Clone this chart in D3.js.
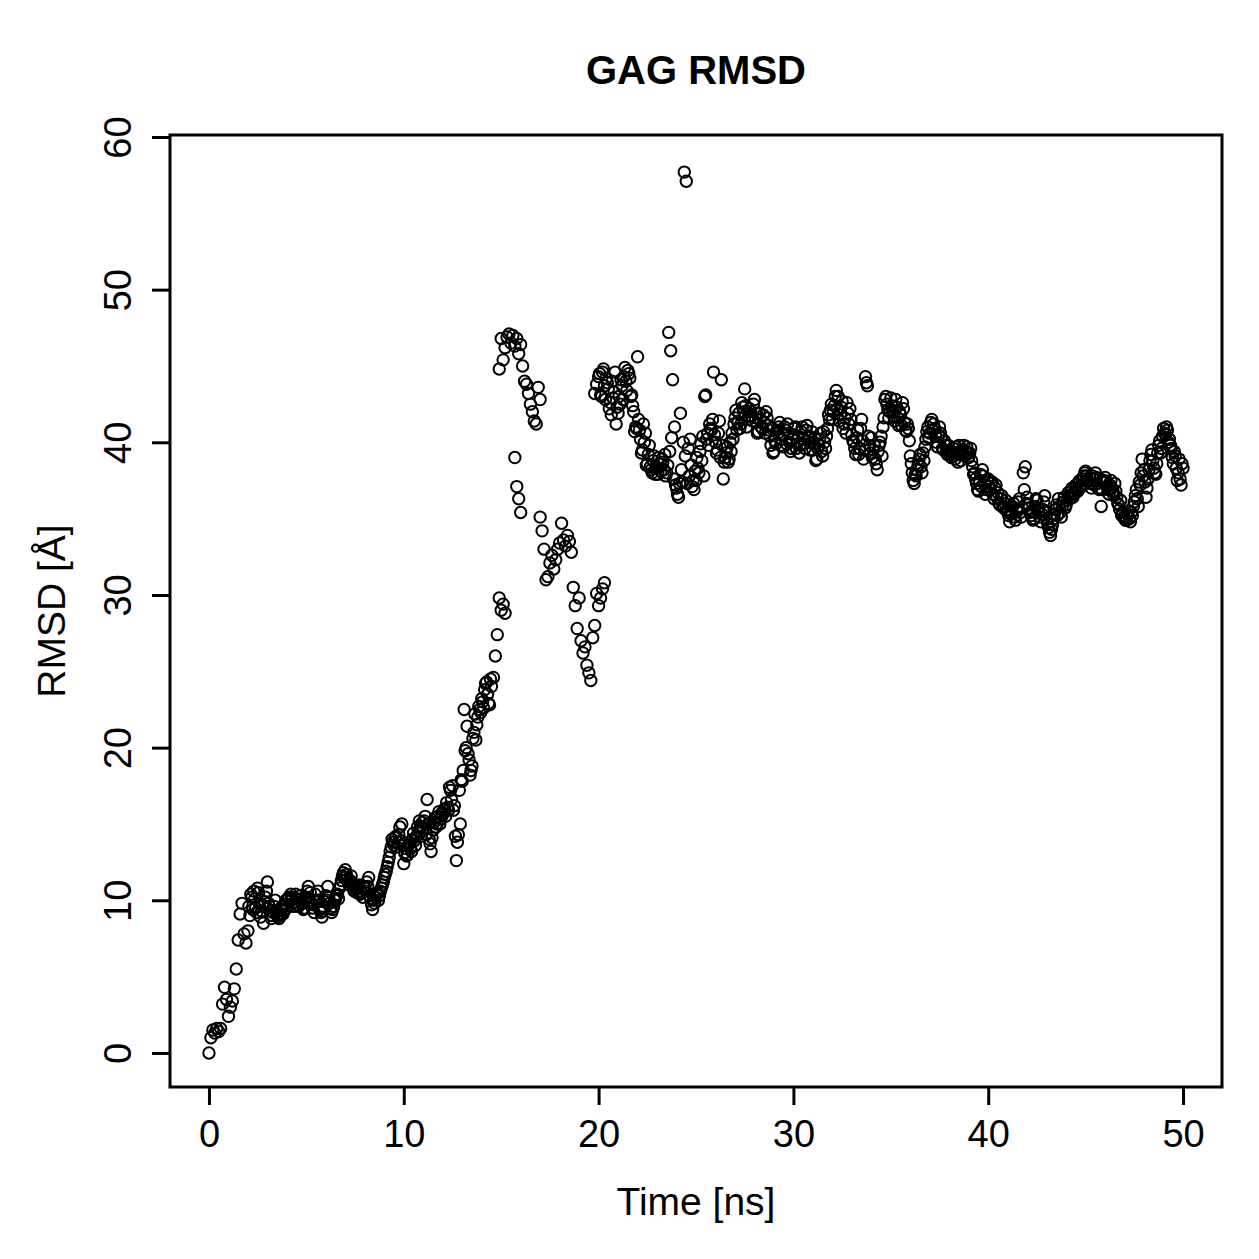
<!DOCTYPE html>
<html>
<head>
<meta charset="utf-8">
<script src="https://cdn.jsdelivr.net/npm/d3@7"></script>
<style>
  body { margin: 0; background: #fff; }
  text { font-family: "Liberation Sans", Arial, Helvetica, sans-serif; }
</style>
</head>
<body>
<svg id="chart"></svg>
<script>
// RMSD, one value every 0.1 ns inside each run of points
var step = 0.1;

var rmsdEarly = [ // 0.0 - 14.6 ns
  0.0, 1.0, 1.5, 1.3, 1.6, 1.4, 1.6, 3.2, 4.3, 3.5,
  2.4, 3.0, 3.4, 4.2, 5.5, 7.4, 9.1, 9.8, 7.8, 7.2,
  8.0, 9.0, 10.2, 10.6, 9.5, 10.8, 9.8, 9.3, 8.5, 10.2,
  11.2, 9.6, 8.8, 9.2, 10.0, 9.0, 8.8, 9.4, 9.1, 9.7,
  9.5, 10.2, 10.4, 9.8, 9.9, 10.1, 9.6, 10.3, 9.8, 9.5,
  10.2, 10.9, 10.5, 9.5, 9.2, 10.0, 10.6, 9.4, 8.9, 9.5,
  10.3, 10.9, 9.8, 9.2, 9.6, 10.1, 10.4, 10.8, 11.3, 11.8,
  12.0, 11.4, 11.0, 11.6, 10.9, 10.7, 10.5, 11.0, 10.6, 10.2,
  10.8, 11.2, 11.5, 10.1, 9.4, 9.8, 10.4, 10.0, 10.6, 11.0,
  11.5, 11.9, 12.5, 13.2, 14.0, 13.6, 14.2, 13.8, 14.8, 15.0,
  12.4, 13.4, 13.0, 13.8, 13.2, 14.4, 13.6, 14.8, 15.2, 14.2,
  14.7, 15.5, 16.6, 14.0, 13.2, 14.6, 15.4, 15.0, 15.8, 15.3,
  15.6, 16.0, 16.4, 15.9, 17.2, 17.5, 16.2, 12.6, 14.3, 15.0,
  17.8, 22.5, 20.0, 19.6, 18.2, 18.8, 21.0, 20.5, 22.0, 22.5,
  23.2, 22.6, 24.2, 23.5, 22.8, 24.0, 24.6
];
var rmsdEarlyHalf = [ // 2.05 - 14.45 ns
  9.6, 10.4, 9.4, 10.1, 9.2, 10.5, 8.9, 9.7, 9.9, 10.6,
  9.8, 9.3, 9.0, 9.6, 9.2, 8.9, 9.1, 9.6, 9.3, 10.0,
  10.1, 9.9, 10.2, 9.6, 10.4, 9.7, 10.0, 9.9, 9.4, 10.1,
  10.6, 10.0, 9.8, 9.7, 10.4, 9.9, 10.0, 9.2, 9.3, 9.9,
  10.0, 10.2, 9.5, 9.4, 10.0, 10.3, 10.1, 11.0, 11.6, 11.5,
  11.7, 11.2, 11.3, 11.1, 10.6, 10.8, 10.9, 10.4, 10.5, 10.9,
  10.6, 10.9, 10.3, 9.7, 10.0, 10.2, 10.5, 10.3, 10.8, 11.2,
  11.7, 12.2, 12.8, 13.5, 13.8, 14.1, 13.5, 14.3, 13.9, 13.6,
  13.1, 12.9, 13.6, 13.4, 14.0, 13.9, 14.2, 14.5, 14.8, 15.1,
  15.2, 14.3, 15.0, 13.7, 14.1, 15.1, 14.8, 15.5, 15.0, 15.7,
  15.9, 15.5, 16.1, 17.4, 16.6, 15.9, 14.2, 13.8, 17.2, 17.9,
  18.5, 19.8, 21.4, 19.2, 18.5, 20.6, 22.2, 21.5, 22.7, 22.3,
  23.0, 23.8, 24.3, 22.9, 24.5
];
var rmsdLowRise = [26.0, 27.4, 29.8, 29.0, 29.4, 28.8];
var rmsdPeak = [
  44.8, 46.8, 45.4, 46.2, 46.9, 47.1, 46.5, 47.0, 46.3, 46.8,
  45.8, 46.4, 45.0, 44.0, 43.8, 43.2, 42.5, 42.0, 41.4, 41.2,
  43.6, 42.8
];
var rmsdFall = [39.0, 37.1, 36.3, 35.4];
var rmsdDip = [
  35.1, 34.2, 33.0, 31.0, 31.2, 32.1, 32.6, 31.7, 32.3, 33.0,
  33.4, 34.7, 33.6, 33.2, 33.9, 33.5, 32.8
];
var rmsdTrough = [
  30.5, 29.3, 27.8, 29.8, 27.0, 26.2, 26.6, 25.4, 24.9, 24.4,
  27.2, 28.0, 30.1, 29.3, 29.8, 30.4, 30.8
];
var rmsdPlateau = [ // 19.8 - 50.0 ns
  43.2, 43.8, 44.3, 43.1, 44.6, 43.7, 44.2, 43.5, 42.6, 44.0, 43.3, 41.2,
  41.9, 42.5, 43.7, 44.3, 44.0, 44.7, 44.2, 43.1, 42.0, 41.0,
  45.6, 40.8, 39.3, 41.2, 40.6, 38.6, 39.8, 38.2, 38.8, 37.9,
  38.3, 39.0, 38.1, 38.7, 39.2, 38.0, 47.2, 46.0, 44.1, 41.0,
  37.0, 36.4, 41.9, 37.4, 57.7, 57.1, 39.6, 40.2, 37.1, 36.9,
  37.5, 38.3, 39.4, 38.8, 37.8, 43.1, 40.6, 41.2, 40.8, 44.6,
  40.0, 39.5, 41.4, 44.1, 37.6, 39.0, 39.7, 38.9, 39.4, 40.2,
  41.6, 40.8, 41.9, 41.2, 42.3, 43.5, 41.0, 41.7, 42.0, 41.4,
  42.8, 41.9, 40.7, 41.5, 40.9, 41.3, 42.0, 41.1, 40.4, 40.9,
  39.4, 39.9, 40.6, 41.3, 40.2, 39.7, 40.8, 41.2, 40.0, 39.6,
  40.5, 41.0, 39.9, 39.3, 40.7, 40.2, 39.6, 41.1, 40.4, 40.0,
  39.5, 40.3, 38.9, 39.8, 40.6, 39.1, 40.0, 40.4, 41.8, 42.1,
  41.5, 42.4, 43.4, 43.0, 41.8, 42.7, 41.2, 40.6, 41.9, 42.2,
  40.5, 40.0, 39.2, 40.8, 39.6, 41.5, 38.9, 44.3, 43.7, 39.8,
  40.3, 39.5, 38.9, 38.2, 39.8, 40.4, 41.0, 42.8, 42.5, 41.6,
  42.9, 42.0, 41.4, 42.3, 41.1, 41.8, 42.6, 41.3, 40.7, 40.9,
  39.1, 38.0, 37.3, 37.8, 38.5, 39.2, 38.0, 38.8, 40.2, 41.0,
  40.6, 41.5, 41.2, 40.4, 39.7, 41.0, 40.3, 39.5, 39.8, 39.2,
  39.4, 39.0, 39.6, 38.9, 39.3, 39.8, 38.8, 39.5, 39.1, 39.7,
  39.0, 39.6, 38.4, 38.0, 37.3, 36.8, 37.9, 38.2, 37.4, 36.9,
  37.6, 36.9, 37.4, 36.3, 37.2, 36.7, 35.9, 36.5, 35.7, 36.2,
  35.6, 34.8, 35.4, 36.0, 34.9, 35.5, 36.3, 35.1, 38.0, 38.4,
  36.4, 35.7, 35.2, 34.9, 35.8, 36.2, 35.4, 34.8, 35.6, 36.5,
  35.0, 34.4, 33.9, 34.6, 35.3, 35.9, 36.3, 35.4, 35.8, 36.4,
  35.9, 36.7, 36.3, 37.0, 36.6, 37.2, 36.8, 37.5, 37.1, 37.8,
  38.1, 37.4, 37.7, 37.0, 37.6, 38.0, 37.3, 36.9, 35.8, 37.4,
  37.7, 37.1, 36.6, 37.5, 36.8, 37.3, 36.4, 35.9, 36.2, 35.4,
  35.0, 34.9, 35.5, 34.8, 35.2, 36.1, 36.9, 35.8, 37.2, 38.9,
  38.2, 36.4, 37.6, 38.8, 39.5, 38.3, 37.9, 39.3, 40.1, 39.6,
  40.9, 40.5, 40.8, 40.2, 39.6, 38.6, 39.1, 37.5, 38.9, 37.2,
  38.3
];
var rmsdPlateauHalf = [ // 20.05 - 49.95 ns
  44.5, 43.0, 44.8, 42.8, 43.9, 42.2, 41.8, 42.9, 44.6, 42.3,
  43.0, 44.1, 42.8, 44.9, 43.4, 44.5, 43.0, 42.4, 40.7, 40.9,
  41.5, 40.2, 39.5, 40.0, 38.5, 39.2, 38.4, 38.0, 39.1, 38.4,
  37.9, 38.6, 38.9, 38.2, 37.8, 38.5, 39.4, 40.3, 37.6, 37.2,
  36.6, 37.3, 38.2, 40.0, 39.1, 37.3, 37.8, 38.5, 37.5, 38.1,
  39.0, 38.0, 39.9, 40.4, 43.0, 40.2, 39.8, 40.9, 41.5, 40.5,
  39.3, 40.6, 39.0, 39.8, 38.7, 39.3, 38.7, 40.0, 40.6, 41.2,
  42.1, 41.3, 40.9, 42.6, 42.0, 42.4, 41.5, 42.2, 41.7, 42.5,
  41.6, 40.6, 41.9, 41.0, 41.8, 40.6, 41.6, 40.8, 39.8, 39.3,
  40.1, 40.8, 41.0, 39.8, 40.5, 41.0, 39.9, 40.6, 39.4, 40.2,
  40.9, 39.6, 40.4, 39.8, 41.0, 39.9, 40.8, 40.3, 39.5, 40.7,
  39.9, 38.8, 39.6, 40.2, 39.4, 40.7, 39.6, 40.9, 41.5, 42.5,
  42.0, 43.0, 42.2, 41.4, 42.3, 40.9, 41.6, 42.6, 41.2, 41.5,
  40.1, 39.6, 40.3, 39.2, 40.9, 40.1, 39.5, 43.9, 40.4, 39.3,
  39.0, 39.8, 38.6, 39.4, 40.0, 39.1, 41.6, 43.0, 42.1, 42.0,
  42.4, 41.7, 42.8, 41.6, 42.0, 41.1, 42.2, 40.8, 41.2, 40.1,
  38.6, 37.5, 37.9, 38.2, 38.9, 38.4, 39.3, 39.7, 40.7, 40.3,
  41.3, 40.8, 40.9, 40.0, 40.5, 40.6, 39.6, 40.1, 39.4, 39.8,
  39.2, 39.4, 39.1, 39.7, 38.7, 39.4, 39.2, 39.8, 39.4, 39.3,
  39.3, 38.8, 37.9, 37.6, 36.9, 37.5, 37.1, 37.8, 36.6, 37.5,
  37.1, 37.3, 36.6, 37.0, 36.4, 36.0, 36.3, 35.8, 36.0, 35.5,
  35.2, 35.3, 35.8, 35.1, 35.6, 36.1, 35.4, 35.7, 36.9, 36.0,
  35.9, 35.4, 35.5, 35.0, 36.3, 35.7, 35.1, 35.3, 36.1, 35.5,
  34.7, 34.1, 34.3, 35.0, 35.6, 35.2, 35.8, 35.1, 36.1, 35.7,
  36.2, 36.5, 36.8, 36.4, 37.0, 36.9, 37.4, 37.2, 37.6, 38.0,
  37.8, 37.5, 37.3, 37.8, 37.2, 37.7, 37.0, 37.6, 36.9, 37.5,
  37.4, 36.9, 37.2, 37.0, 36.5, 36.8, 36.0, 35.6, 35.2, 35.1,
  34.9, 35.3, 35.0, 35.4, 35.8, 36.5, 36.3, 37.4, 38.0, 37.8,
  37.4, 37.0, 38.2, 39.2, 38.8, 38.0, 38.6, 39.8, 39.3, 40.4,
  40.6, 41.0, 40.0, 39.8, 39.0, 39.4, 38.3, 38.0, 37.6, 38.6
];

var segments = [rmsdEarly, rmsdEarlyHalf, rmsdLowRise, rmsdPeak, rmsdFall,
                rmsdDip, rmsdTrough, rmsdPlateau, rmsdPlateauHalf];
var segmentStarts = [0.0, 2.05, 14.7, 14.9, 15.7, 17.0, 18.7, 19.8, 20.05];

var xTicks = [0, 10, 20, 30, 40, 50];
var yTicks = [0, 10, 20, 30, 40, 50, 60];

var points = [];
segments.forEach(function(vals, s) {
  vals.forEach(function(v, i) {
    points.push({t: segmentStarts[s] + i * step, rmsd: v});
  });
});

// plot box in page pixels
var margin = {top: 135, right: 37, bottom: 172, left: 170},
  width = 1259 - margin.left - margin.right,
  height = 1259 - margin.top - margin.bottom;

var svg = d3.select("#chart")
  .attr("width", 1259)
  .attr("height", 1259);

var g = svg.append("g")
  .attr("transform", "translate(" + margin.left + "," + margin.top + ")");

var x = d3.scaleLinear().domain([-2, 52]).range([0, width]);
var y = d3.scaleLinear().domain([-2.23, 60.13]).range([height, 0]);

// points
g.selectAll("circle")
  .data(points)
  .enter().append("circle")
  .attr("cx", function(d) { return x(d.t); })
  .attr("cy", function(d) { return y(d.rmsd); })
  .attr("r", 5.7)
  .style("fill", "none")
  .style("stroke", "#000")
  .style("stroke-width", 2);

// box
g.append("rect")
  .attr("width", width)
  .attr("height", height)
  .style("fill", "none")
  .style("stroke", "#000")
  .style("stroke-width", 3);

var xAxis = g.append("g")
  .attr("transform", "translate(0," + height + ")")
  .call(d3.axisBottom(x).tickValues(xTicks).tickSize(18).tickSizeOuter(0).tickPadding(15));
xAxis.select(".domain").remove();
xAxis.selectAll("line").style("stroke-width", 3);
xAxis.selectAll("text").style("font-size", "38px").style("fill", "#000");

var yAxis = g.append("g")
  .call(d3.axisLeft(y).tickValues(yTicks).tickSize(18).tickSizeOuter(0));
yAxis.select(".domain").remove();
yAxis.selectAll("line").style("stroke-width", 3);
yAxis.selectAll("text")
  .attr("transform", "rotate(-90)")
  .attr("x", 0)
  .attr("y", -39)
  .attr("dy", 0)
  .style("text-anchor", "middle")
  .style("font-size", "38px")
  .style("fill", "#000");

// titles
svg.append("text")
  .attr("x", margin.left + width / 2)
  .attr("y", 84)
  .style("text-anchor", "middle")
  .style("font-size", "40px")
  .style("font-weight", "bold")
  .text("GAG RMSD");

svg.append("text")
  .attr("x", margin.left + width / 2)
  .attr("y", 1215)
  .style("text-anchor", "middle")
  .style("font-size", "39px")
  .text("Time [ns]");

svg.append("text")
  .attr("transform", "translate(65," + (margin.top + height / 2) + ") rotate(-90)")
  .style("text-anchor", "middle")
  .style("font-size", "39px")
  .text("RMSD [Å]");
</script>
</body>
</html>
